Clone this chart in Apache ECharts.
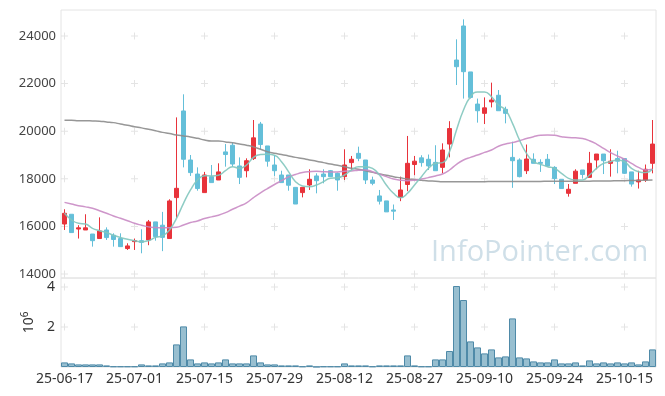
<!DOCTYPE html>
<html><head><meta charset="utf-8">
<script src="https://cdn.jsdelivr.net/npm/echarts@6/dist/echarts.min.js"></script>
<style>html,body{margin:0;padding:0;background:#fff}#c{width:665px;height:396px}</style>
</head><body><div id="c"></div>
<script>
const dates = ['25-06-17','25-06-18','25-06-19','25-06-20','25-06-23','25-06-24','25-06-25','25-06-26','25-06-27','25-06-30',
'25-07-01','25-07-02','25-07-03','25-07-04','25-07-07','25-07-08','25-07-09','25-07-10','25-07-11','25-07-14',
'25-07-15','25-07-16','25-07-17','25-07-18','25-07-21','25-07-22','25-07-23','25-07-24','25-07-25','25-07-28',
'25-07-29','25-07-30','25-07-31','25-08-01','25-08-04','25-08-05','25-08-06','25-08-07','25-08-08','25-08-11',
'25-08-12','25-08-13','25-08-14','25-08-18','25-08-19','25-08-20','25-08-21','25-08-22','25-08-25','25-08-26',
'25-08-27','25-08-28','25-08-29','25-09-01','25-09-02','25-09-03','25-09-04','25-09-05','25-09-08','25-09-09',
'25-09-10','25-09-11','25-09-12','25-09-15','25-09-16','25-09-17','25-09-18','25-09-19','25-09-22','25-09-23',
'25-09-24','25-09-25','25-09-26','25-09-29','25-09-30','25-10-01','25-10-02','25-10-10','25-10-13','25-10-14',
'25-10-15','25-10-16','25-10-17','25-10-20','25-10-21'];

const opens = [16100,16510,15890,15850,15680,15490,15850,15630,15490,15070,
15360,15400,15430,16190,16050,15490,17210,20850,18790,18200,
17420,18090,17950,19130,19410,18540,18340,18850,20300,19380,
18580,18160,18160,17640,17420,17740,18120,18200,18340,18230,
18090,18680,19070,18790,17950,17280,17070,16690,17220,17760,
18600,18880,18820,18690,18480,19460,22990,24420,22490,21140,
20750,21230,21510,20920,18900,18790,18340,18820,18690,18820,
18480,17980,17390,17810,18370,18060,18790,19040,18650,18850,
18850,18290,17870,17950,18650];
const closes = [16550,15740,15940,15940,15400,15810,15530,15450,15150,15180,
15400,15330,16190,15570,15540,17070,17600,18820,18260,17590,
18160,17840,18290,19020,18620,18060,18760,19720,19440,18740,
18340,17840,17730,16940,17640,17980,17920,18090,18090,17950,
18580,18820,18860,17950,17810,17060,16610,16640,17530,18650,
18740,18680,18540,18340,19210,20110,22710,22500,21420,20860,
20980,21310,20860,20750,18760,18090,18830,18650,18650,18540,
18010,17590,17560,18320,18180,18650,19040,18760,18740,18740,
18230,17780,17950,18400,19460];
const lows = [15850,15740,15490,15850,15150,15490,15430,15150,15150,15010,
15010,14870,15210,15400,14960,15490,16360,18480,18120,17500,
17420,17840,17950,18510,18510,17780,18060,18790,19240,18510,
18120,17840,17500,16940,17220,17530,17390,17810,18090,17500,
17950,18370,18740,17780,17730,16920,16610,16270,17060,17480,
18150,18510,18370,18340,18230,18900,21940,21370,21370,20360,
20300,21000,20860,20330,17620,18060,18200,18650,18290,18510,
17780,17590,17250,17810,18010,18060,18400,18200,18090,18230,
18200,17670,17590,17870,18230];
const highs = [16720,16510,16050,16510,15680,16380,15960,15710,15710,15290,
15490,15880,16270,16190,16610,17140,20580,21550,19000,18480,
18290,18580,18650,19460,19520,18900,18860,20470,20390,19380,
18990,18340,18160,17640,17640,18400,18230,18400,18370,18260,
19240,18960,19350,18790,18090,17530,17070,16920,18090,19800,
18960,18990,19020,19410,19490,20420,23860,24700,22490,21370,
21420,22040,21730,21030,19560,18860,19440,19070,18820,19040,
18530,17980,17780,18400,18370,19130,19040,19040,19240,19180,
18850,18290,18340,18600,20470];
const ma5 = [16550,16270,16130,16100,15920,15820,15740,15630,15530,15460,
15400,15350,15400,15540,15600,15850,16340,16970,17530,17950,
18130,18120,18150,18340,18510,18440,18580,18900,19020,19030,
18990,18720,18300,17880,17700,17670,17740,17880,18020,18040,
18160,18370,18510,18510,18440,18160,17730,17390,17200,17390,
17740,18090,18440,18650,18680,19140,20050,20890,21450,21650,
21650,21450,21100,20890,20330,19630,19070,18720,18610,18510,
18440,18230,18020,17950,17950,18160,18440,18650,18720,18790,
18720,18440,18300,18260,18400];
const ma20 = [17010,16940,16870,16820,16760,16660,16550,16440,16340,16240,
16130,16050,15980,15950,15940,15940,15960,16060,16160,16230,
16330,16400,16470,16580,16720,16850,16990,17210,17410,17590,
17760,17920,18080,18180,18260,18300,18320,18300,18290,18290,
18320,18330,18360,18370,18300,18200,18090,17990,17940,17920,
17940,17990,18050,18120,18200,18370,18610,18790,18900,19000,
19110,19210,19370,19460,19520,19600,19690,19770,19830,19840,
19830,19770,19730,19720,19690,19600,19460,19280,19100,18960,
18820,18650,18480,18370,18400];
const ma120 = [20460,20460,20440,20440,20430,20420,20390,20360,20300,20250,
20190,20140,20080,20020,19950,19900,19840,19800,19760,19700,
19630,19590,19590,19550,19510,19460,19410,19340,19240,19140,
19070,19020,18960,18900,18850,18790,18740,18680,18620,18570,
18510,18440,18400,18340,18270,18200,18150,18090,18040,17990,
17970,17940,17910,17900,17880,17880,17880,17880,17880,17880,
17880,17890,17890,17890,17890,17890,17890,17890,17890,17900,
17900,17900,17900,17900,17900,17900,17910,17910,17910,17920,
17920,17930,17930,17940,17950];
const volumes = [230000,180000,130000,130000,130000,130000,80000,30000,30000,30000,
30000,130000,80000,80000,180000,230000,1130000,2030000,380000,180000,
230000,180000,230000,380000,180000,180000,180000,580000,230000,130000,
130000,80000,80000,80000,30000,80000,10000,30000,30000,30000,
180000,80000,80000,80000,30000,80000,80000,80000,80000,580000,
80000,30000,30000,380000,380000,800000,4050000,3350000,1280000,980000,
680000,880000,480000,530000,2430000,480000,430000,280000,230000,230000,
380000,180000,180000,230000,80000,330000,180000,230000,180000,230000,
180000,230000,130000,280000,880000];
const priceTicks = [14000,16000,18000,20000,22000,24000];
const volTicks = [2000000,4000000];
const labelStep = 10;

const candleData = dates.map((d,i)=>[opens[i],closes[i],lows[i],highs[i]]);
const tickCats = dates.filter((d,i)=>i%labelStep===0);
const crossPrice = [];
tickCats.forEach(c=>priceTicks.forEach(v=>crossPrice.push([c,v])));
const crossVol = [];
tickCats.forEach(c=>volTicks.forEach(v=>crossVol.push([c,v])));
const plus = 'path://M0,3h7v1h-7z M3,0h1v7h-1z';
const FONT = 'Noto Sans';

const chart = echarts.init(document.getElementById('c'), null, {renderer:'canvas'});
chart.setOption({
  animation:false,
  backgroundColor:'#ffffff',
  grid:[
    {left:61, top:10, width:595, height:268, show:true, borderColor:'#e4e4e4', borderWidth:1, backgroundColor:'transparent'},
    {left:61, top:278, width:595, height:89, show:true, borderColor:'#e4e4e4', borderWidth:1, backgroundColor:'transparent'}
  ],
  xAxis:[
    {type:'category', gridIndex:0, data:dates, boundaryGap:true, axisLine:{show:false}, axisTick:{show:false}, axisLabel:{show:false}, splitLine:{show:false}},
    {type:'category', gridIndex:1, data:dates, boundaryGap:true, axisLine:{show:false}, axisTick:{show:false},
     axisLabel:{show:true, interval:labelStep-1, fontFamily:FONT, fontSize:14, color:'#333', margin:5}, splitLine:{show:false}}
  ],
  yAxis:[
    {type:'value', gridIndex:0, min:13832, max:25092, axisLine:{show:false}, axisTick:{show:false}, splitLine:{show:false},
     axisLabel:{customValues:priceTicks, formatter:v=>String(v), fontFamily:FONT, fontSize:13, color:'#444', margin:5}},
    {type:'value', gridIndex:1, min:0, max:4450000, axisLine:{show:false}, axisTick:{show:false}, splitLine:{show:false},
     axisLabel:{customValues:volTicks, formatter:v=>String(v/1000000), fontFamily:FONT, fontSize:14, color:'#333', margin:6},
     name:'{a|10}{b|6}', nameLocation:'middle', nameRotate:90, nameGap:16,
     nameTextStyle:{fontFamily:FONT, color:'#333', rich:{a:{fontFamily:FONT, fontSize:14, color:'#333'}, b:{fontFamily:FONT, fontSize:10, color:'#333', padding:[0,0,8,0]}}}}
  ],
  graphic:[{type:'text', left:431, top:238, z:0, silent:true,
    style:{text:'InfoPointer.com', font:'29px "Open Sans"', fill:'#cfdfe8'}}],
  series:[
    {type:'scatter', xAxisIndex:0, yAxisIndex:0, data:crossPrice, symbol:plus, symbolSize:7, itemStyle:{color:'#dddddd'}, silent:true, z:1},
    {type:'scatter', xAxisIndex:1, yAxisIndex:1, data:crossVol, symbol:plus, symbolSize:7, itemStyle:{color:'#dddddd'}, silent:true, z:1},
    {type:'candlestick', xAxisIndex:0, yAxisIndex:0, data:candleData, barWidth:4, z:3,
     itemStyle:{color:'#e8333b', color0:'#64bfd9', borderColor:'#e8333b', borderColor0:'#64bfd9', borderWidth:1}},
    {type:'line', xAxisIndex:0, yAxisIndex:0, data:ma120, symbol:'none', smooth:true, z:4, lineStyle:{color:'#8c8c8c', width:1.5, opacity:0.9}},
    {type:'line', xAxisIndex:0, yAxisIndex:0, data:ma20, symbol:'none', smooth:true, z:4, lineStyle:{color:'#c98bc4', width:1.5, opacity:0.9}},
    {type:'line', xAxisIndex:0, yAxisIndex:0, data:ma5, symbol:'none', smooth:true, z:4, lineStyle:{color:'#82c7be', width:1.5, opacity:0.9}},
    {type:'bar', xAxisIndex:1, yAxisIndex:1, data:volumes, barWidth:'100%', z:3,
     itemStyle:{color:'#98bfd0', borderColor:'#4f8aa8', borderWidth:1}}
  ]
});
</script></body></html>
